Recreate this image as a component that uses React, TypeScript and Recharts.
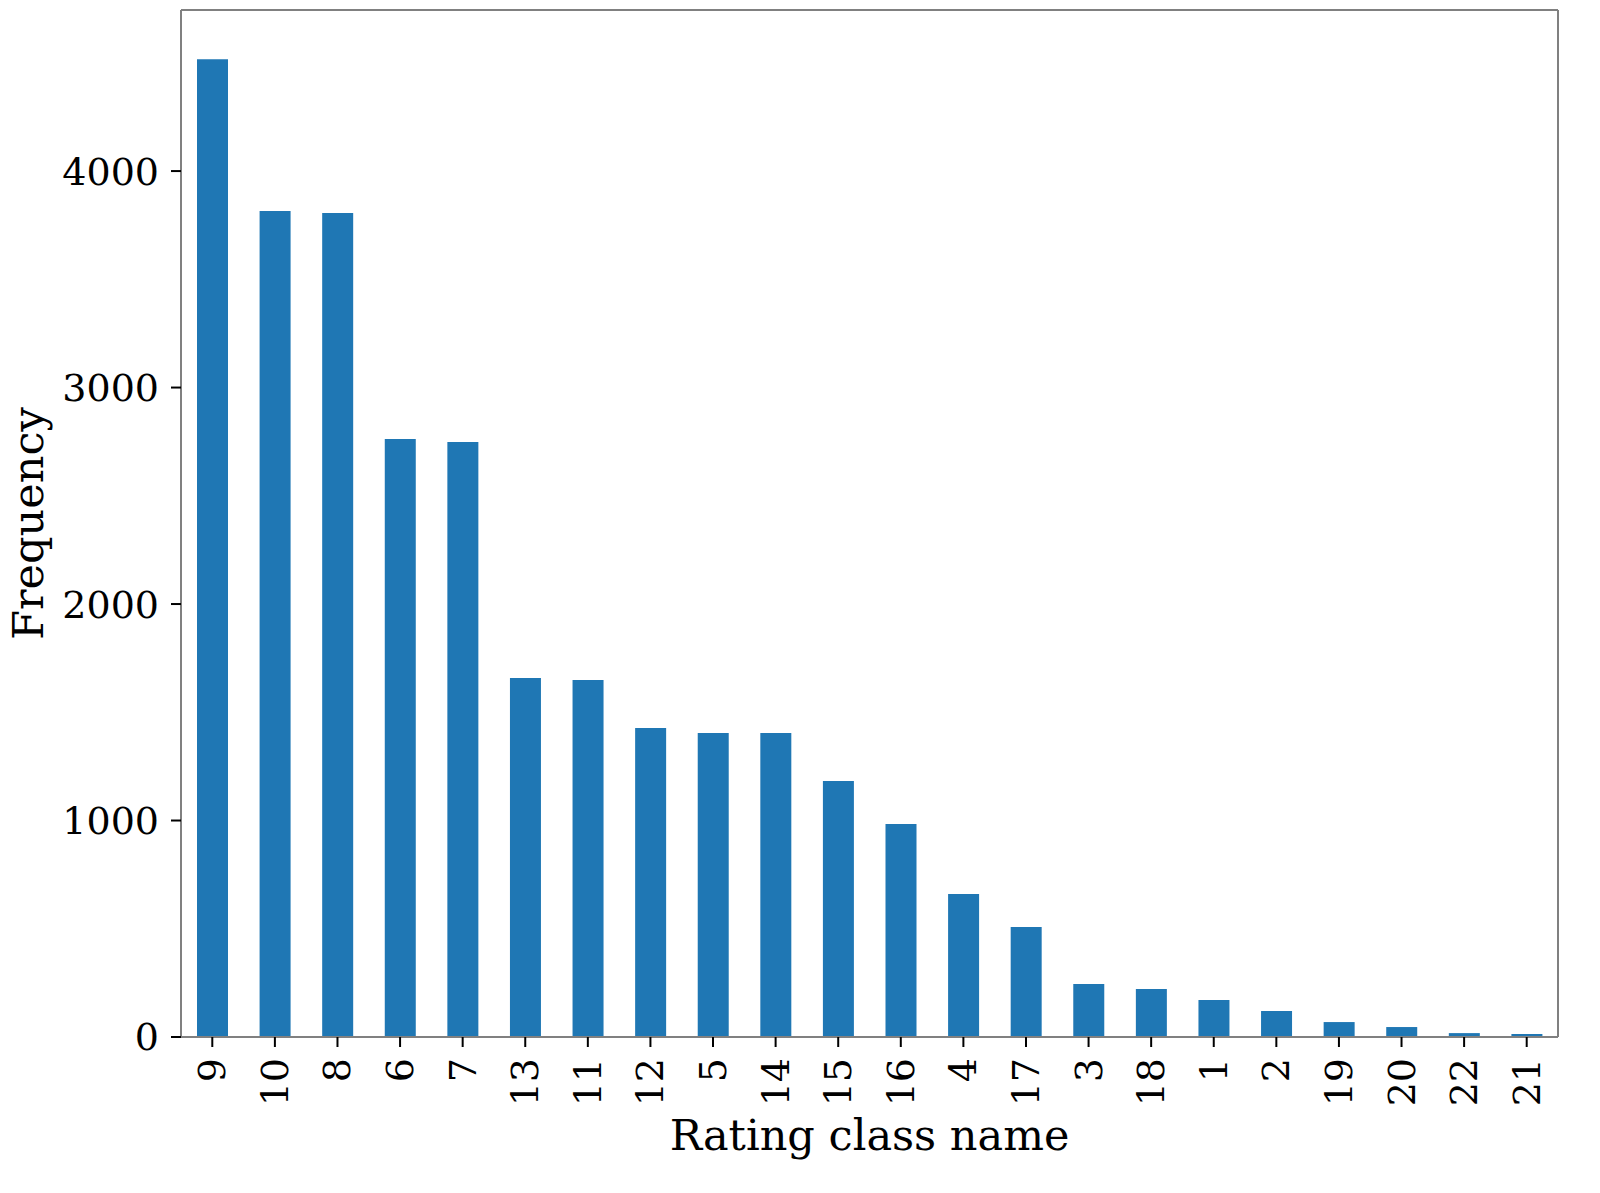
import { BarChart, Bar, XAxis, YAxis, Label } from 'recharts';

const classNames = ['9', '10', '8', '6', '7', '13', '11', '12', '5', '14', '15', '16', '4', '17', '3', '18', '1', '2', '19', '20', '22', '21'];
const frequencies = [4517, 3815, 3806, 2762, 2748, 1658, 1649, 1427, 1404, 1404, 1182, 984, 660, 508, 245, 222, 171, 120, 69, 46, 18, 14];
const yTicks = [0, 1000, 2000, 3000, 4000];

const FONT = '"DejaVu Serif", serif';

const data = classNames.map((name, i) => ({ name, freq: frequencies[i] }));

const RotatedTick = (props: any) => {
  const { x, y, payload } = props;
  const ty = y + 9;
  return (
    <text
      x={x}
      y={ty}
      transform={`rotate(-90, ${x}, ${ty})`}
      textAnchor="end"
      dominantBaseline="central"
      fontFamily={FONT}
      fontSize={38}
      fill="#000"
    >
      {payload.value}
    </text>
  );
};

export default function App() {
  return (
    <div style={{ position: 'absolute', left: 0, top: 0, width: 1600, height: 1193, background: '#fff' }}>
      <BarChart
        width={1600}
        height={1193}
        data={data}
        margin={{ top: 9, right: 41, left: 0, bottom: 0 }}
        barCategoryGap="25%"
      >
        <XAxis
          dataKey="name"
          interval={0}
          stroke="#808080"
          strokeWidth={2}
          tickSize={10}
          tickLine={{ stroke: '#000', strokeWidth: 2 }}
          tick={<RotatedTick />}
          height={156}
        >
          <Label
            value="Rating class name"
            position="insideBottom"
            offset={43}
            fontFamily={FONT}
            fontSize={43}
            fill="#000"
          />
        </XAxis>
        <XAxis xAxisId="top" dataKey="name" orientation="top" tick={false} tickLine={false} stroke="#808080" strokeWidth={2} height={1} />
        <YAxis
          domain={[0, 4744]}
          ticks={yTicks}
          width={181}
          stroke="#808080"
          strokeWidth={2}
          tickSize={10}
          tickMargin={12}
          tickLine={{ stroke: '#000', strokeWidth: 2 }}
          tick={{ fontFamily: FONT, fontSize: 38, fill: '#000' }}
        >
          <Label
            value="Frequency"
            angle={-90}
            position="insideLeft"
            offset={28}
            style={{ textAnchor: 'middle' }}
            fontFamily={FONT}
            fontSize={43}
            fill="#000"
          />
        </YAxis>
        <YAxis yAxisId="right" orientation="right" domain={[0, 4744]} tick={false} tickLine={false} stroke="#808080" strokeWidth={2} width={1} />
        <Bar dataKey="freq" fill="#1f77b4" barSize={31} isAnimationActive={false} />
      </BarChart>
    </div>
  );
}
